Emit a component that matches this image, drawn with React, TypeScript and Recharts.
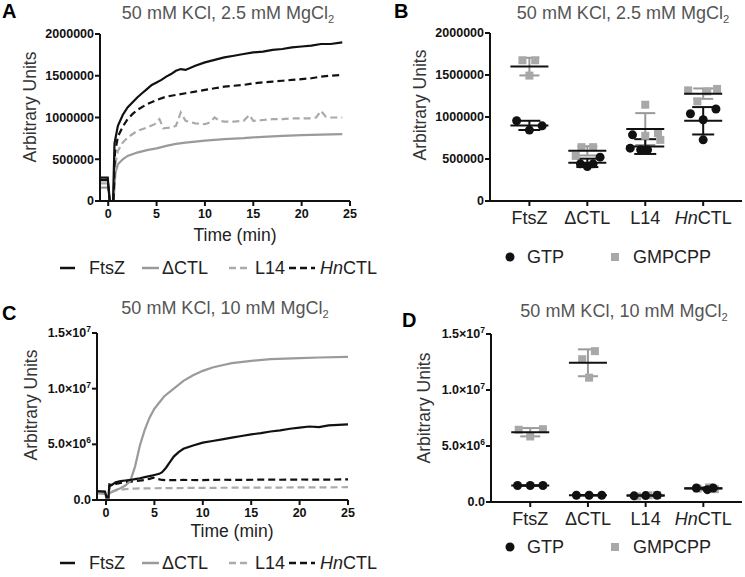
import React from "react";
import { LineChart, Line, XAxis, YAxis, ScatterChart, Scatter, ErrorBar } from "recharts";

const FONT = '"Liberation Sans", Arial, Helvetica, sans-serif';
const BLACK = "#111";
const GREY = "#9a9a9a";
const LIGHT = "#aaaaaa";
const SQUARE = "#a8a8a8";

// ---- time courses, [min, arbitrary units]
// A: 50 mM KCl, 2.5 mM MgCl2
const aFtsZ = [
  [-0.85, 280000], [-0.05, 280000], [0.15, 0], [0.5, 0], [0.65, 690000], [1, 900000], [1.5, 1030000],
  [2, 1120000], [2.5, 1180000], [3, 1240000], [3.5, 1290000], [4, 1340000], [4.5, 1390000], [5, 1420000],
  [5.5, 1450000], [6, 1490000], [6.5, 1520000], [7, 1560000], [7.5, 1580000], [8, 1570000], [9, 1620000],
  [10, 1660000], [11, 1690000], [12, 1720000], [13, 1740000], [14, 1760000], [15, 1780000], [16, 1790000],
  [17, 1810000], [18, 1820000], [19, 1840000], [20, 1850000], [21, 1860000], [22, 1880000], [23, 1880000],
  [24.2, 1900000],
];
const aDCTL = [
  [-0.85, 160000], [0, 160000], [0.2, 0], [0.55, 0], [0.75, 340000], [1, 440000], [1.5, 500000],
  [2, 540000], [3, 580000], [4, 610000], [5, 630000], [6, 660000], [7, 685000], [8, 700000], [10, 722000],
  [12, 740000], [14, 752000], [15, 762000], [16, 768000], [18, 780000], [20, 790000], [22, 795000],
  [24.2, 802000],
];
const aL14 = [
  [-0.85, 210000], [0, 210000], [0.2, 0], [0.55, 0], [0.7, 420000], [1, 600000], [1.5, 700000],
  [2, 760000], [3, 840000], [4, 880000], [4.8, 920000], [5.3, 980000], [5.7, 870000], [6.5, 880000],
  [7, 900000], [7.5, 1060000], [8, 960000], [9, 930000], [10, 920000], [10.5, 940000], [11, 1000000],
  [11.5, 960000], [12, 950000], [13, 950000], [14, 960000], [14.6, 1030000], [15, 960000], [16, 970000],
  [17, 980000], [18, 980000], [19, 990000], [20, 990000], [21, 990000], [21.5, 1000000], [22, 1080000],
  [22.5, 1010000], [23, 1000000], [24.2, 1000000],
];
const aHnCTL = [
  [-0.85, 250000], [-0.05, 250000], [0.15, 0], [0.55, 0], [0.7, 580000], [1, 770000], [1.5, 890000],
  [2, 980000], [2.5, 1040000], [3, 1090000], [4, 1160000], [5, 1210000], [6, 1250000], [7, 1270000],
  [8, 1290000], [9, 1310000], [10, 1330000], [11, 1350000], [12, 1370000], [13, 1380000], [14, 1390000],
  [15, 1410000], [16, 1420000], [17, 1430000], [18, 1440000], [19, 1450000], [20, 1460000],
  [21, 1470000], [22, 1490000], [23, 1500000], [24.2, 1510000],
];

// C: 50 mM KCl, 10 mM MgCl2
const cFtsZ = [
  [-0.93, 800000], [-0.1, 750000], [0.05, 250000], [0.25, 250000], [0.35, 1400000], [0.6, 1350000],
  [1, 1600000], [1.5, 1700000], [2, 1750000], [2.5, 1800000], [3, 1880000], [3.5, 1950000], [4, 2050000],
  [4.5, 2150000], [5, 2250000], [5.5, 2350000], [5.8, 2500000], [6.2, 2900000], [6.6, 3400000],
  [7, 3900000], [7.5, 4300000], [8, 4600000], [9, 4900000], [10, 5150000], [11, 5300000], [12, 5450000],
  [13, 5600000], [14, 5750000], [15, 5900000], [16, 6000000], [17, 6150000], [18, 6250000], [19, 6400000],
  [20, 6500000], [21, 6600000], [22, 6550000], [23, 6700000], [24, 6750000], [25, 6800000],
];
const cDCTL = [
  [-0.93, 650000], [-0.1, 600000], [0.05, 200000], [0.25, 200000], [0.35, 600000], [1, 900000],
  [1.5, 1050000], [2, 1300000], [2.5, 1700000], [3, 3000000], [3.5, 4900000], [4, 6300000], [4.5, 7400000],
  [5, 8200000], [6, 9300000], [7, 10000000], [8, 10700000], [9, 11200000], [10, 11600000], [11, 11900000],
  [12, 12100000], [13, 12300000], [15, 12500000], [17, 12650000], [20, 12750000], [22, 12800000],
  [25, 12850000],
];
const cL14 = [
  [-0.93, 600000], [-0.1, 550000], [0.05, 150000], [0.25, 150000], [0.35, 650000], [1, 850000],
  [2, 980000], [3, 1030000], [4, 1050000], [6, 1060000], [8, 1080000], [10, 1090000], [12, 1100000],
  [15, 1110000], [18, 1120000], [20, 1130000], [25, 1150000],
];
const cHnCTL = [
  [-0.93, 700000], [-0.1, 650000], [0.05, 200000], [0.25, 200000], [0.35, 1250000], [1, 1450000],
  [2, 1600000], [3, 1700000], [4, 1800000], [4.5, 1900000], [4.9, 2000000], [5.3, 1900000],
  [5.8, 1800000], [6.5, 1780000], [8, 1800000], [10, 1790000], [12, 1820000], [14, 1800000],
  [16, 1830000], [18, 1820000], [20, 1840000], [22, 1830000], [25, 1850000],
];

const timeTicks = [0, 5, 10, 15, 20, 25];
const aYTicks = [0, 500000, 1000000, 1500000, 2000000];
const cYTicks = [0, 5000000, 10000000, 15000000];
const cYLabels = [["0.0", ""], ["5.0×10", "6"], ["1.0×10", "7"], ["1.5×10", "7"]];

// ---- end-point dot plots
const categories = ["FtsZ", "ΔCTL", "L14", "HnCTL"];

// B: 2.5 mM MgCl2
const bGtp = [
  [955000, 844000, 895000],
  [442000, 410000, 442000, 522000],
  [788000, 629000, 609000, 609000],
  [1039000, 1095000, 967000, 728000],
];
const bGtpX = [[-0.22, 0, 0.22], [-0.12, 0, 0.1, 0.22], [-0.22, -0.26, -0.08, 0.04], [-0.22, 0.22, 0, 0]];
const bGmp = [
  [1675000, 1675000, 1493000],
  [641000, 641000, 537000],
  [1146000, 808000, 728000, 776000],
  [1317000, 1305000, 1334000, 1186000],
];
const bGmpX = [[-0.12, 0.1, 0], [-0.1, 0.1, -0.2], [0, 0.22, 0.26, 0], [-0.26, 0.07, 0.24, -0.1]];
const bGtpMean = [900000, 454000, 648000, 955000];
const bGtpSd = [55000, 50000, 88000, 163000];
const bGmpMean = [1600000, 597000, 856000, 1278000];
const bGmpSd = [105000, 55000, 190000, 62000];

// D: 10 mM MgCl2
const dGtp = [
  [1470000, 1470000, 1470000],
  [600000, 600000, 600000],
  [550000, 570000, 600000],
  [1250000, 1100000, 1250000],
];
const dGtpX = [[-0.22, 0, 0.22], [-0.2, 0.02, 0.24], [-0.2, 0, 0.2], [-0.12, 0.07, 0.17]];
const dGmp = [
  [6450000, 5850000, 6500000],
  [12750000, 13470000, 11100000],
  [500000, 600000, 620000],
  [1200000, 1300000, 1150000],
];
const dGmpX = [[-0.2, 0, 0.22], [-0.1, 0.12, 0.02], [-0.15, 0.05, 0.2], [-0.1, 0.1, 0.2]];
const dGtpMean = [1470000, 600000, 570000, 1200000];
const dGtpSd = [20000, 20000, 30000, 80000];
const dGmpMean = [6230000, 12430000, 570000, 1220000];
const dGmpSd = [370000, 1200000, 60000, 80000];

const axisStroke = { stroke: BLACK, strokeWidth: 2 };
const numTick = { fontSize: 12.5, fontWeight: 700, fill: BLACK, fontFamily: FONT };

const rows = (pts: number[][]) => pts.map(([t, v]) => ({ t, v }));
const toPoints = (vals: number[][], offs: number[][]) =>
  vals.flatMap((g, i) => g.map((v, j) => ({ x: i + 1 + offs[i][j], y: v })));
const toMeans = (m: number[], sd: number[]) => m.map((v, i) => ({ x: i + 1, y: v, sd: sd[i] }));

function SciTick({ x, y, payload }: any) {
  const i = cYTicks.indexOf(payload.value);
  const [base, exp] = cYLabels[i] ?? [String(payload.value), ""];
  return (
    <text x={x} y={y} dy={4} textAnchor="end" {...numTick}>
      {base}
      {exp ? <tspan dy={-5} fontSize={8.5}>{exp}</tspan> : null}
    </text>
  );
}

function CatTick({ x, y, payload }: any) {
  const name = categories[payload.value - 1];
  return (
    <text x={x} y={y} dy="0.71em" textAnchor="middle" fontSize={18} fill="#222" fontFamily={FONT}>
      {name === "HnCTL" ? (
        <>
          <tspan fontStyle="italic">Hn</tspan>
          <tspan>CTL</tspan>
        </>
      ) : (
        name
      )}
    </text>
  );
}

function Txt({ x, cy, size, bold, color, center, children }: any) {
  return (
    <div
      style={{
        position: "absolute",
        left: center ? x - 200 : x,
        width: center ? 400 : undefined,
        textAlign: center ? "center" : "left",
        top: cy - size * 0.5,
        fontSize: size,
        lineHeight: 1,
        fontWeight: bold ? 700 : 400,
        color: color ?? "#222",
        whiteSpace: "nowrap",
      }}
    >
      {children}
    </div>
  );
}

function YTitle({ x, cy }: any) {
  return (
    <div
      style={{
        position: "absolute",
        left: x - 100,
        top: cy - 9,
        width: 200,
        textAlign: "center",
        fontSize: 17.5,
        lineHeight: "18px",
        color: "#333",
        transform: "rotate(-90deg)",
        whiteSpace: "nowrap",
      }}
    >
      Arbitrary Units
    </div>
  );
}

const Mg = ({ mm }: { mm: string }) => (
  <>
    50 mM KCl, {mm} mM MgCl<span style={{ fontSize: "0.62em", position: "relative", top: "0.35em" }}>2</span>
  </>
);

function LineKey({ x, cy, w, color, dash, tx, children }: any) {
  return (
    <>
      <svg style={{ position: "absolute", left: x, top: cy - 2 }} width={w} height={4}>
        <line x1={0} y1={2} x2={w} y2={2} stroke={color} strokeWidth={2.5} strokeDasharray={dash} />
      </svg>
      <Txt x={tx} cy={cy} size={18}>
        {children}
      </Txt>
    </>
  );
}

function LineLegend({ cy }: { cy: number }) {
  return (
    <>
      <LineKey x={60} cy={cy} w={15} color={BLACK} tx={89}>FtsZ</LineKey>
      <LineKey x={142} cy={cy} w={17} color={GREY} tx={162}>ΔCTL</LineKey>
      <LineKey x={229} cy={cy} w={18} color={LIGHT} dash="7 4" tx={255}>L14</LineKey>
      <LineKey x={289} cy={cy} w={26} color={BLACK} dash="7 4" tx={320}>
        <i>Hn</i>CTL
      </LineKey>
    </>
  );
}

function DotLegend({ cy }: { cy: number }) {
  return (
    <>
      <svg style={{ position: "absolute", left: 504, top: cy - 6 }} width={12} height={12}>
        <circle cx={6} cy={6} r={4.5} fill={BLACK} />
      </svg>
      <Txt x={527} cy={cy} size={18}>GTP</Txt>
      <svg style={{ position: "absolute", left: 610, top: cy - 5 }} width={10} height={10}>
        <rect x={1} y={1} width={8} height={8} fill={SQUARE} />
      </svg>
      <Txt x={633} cy={cy} size={18}>GMPCPP</Txt>
    </>
  );
}

function TimeCourse({ top, yAxisW, plotTop, right, xMin, yMax, yTicks, yTick, series }: any) {
  return (
    <div style={{ position: "absolute", left: 0, top }}>
      <LineChart width={372} height={235} margin={{ top: plotTop, right, bottom: 0, left: 0 }}>
        <XAxis
          type="number"
          dataKey="t"
          domain={[xMin, 25]}
          ticks={timeTicks}
          interval={0}
          allowDataOverflow
          height={235 - plotTop - 167}
          axisLine={axisStroke}
          tickLine={axisStroke}
          tickSize={5}
          tickMargin={3}
          tick={numTick}
        />
        <YAxis
          type="number"
          domain={[0, yMax]}
          ticks={yTicks}
          interval={0}
          allowDataOverflow
          width={yAxisW}
          axisLine={axisStroke}
          tickLine={axisStroke}
          tickSize={5}
          tickMargin={1}
          tick={yTick}
        />
        {series.map((s: any) => (
          <Line
            key={s.name}
            data={rows(s.pts)}
            dataKey="v"
            type="linear"
            stroke={s.color}
            strokeWidth={2.2}
            strokeDasharray={s.dash}
            dot={false}
            isAnimationActive={false}
          />
        ))}
      </LineChart>
    </div>
  );
}

function DotPlot({ top, yAxisW, plotTop, yMax, yTicks, yTick, gtp, gtpX, gmp, gmpX, gtpMean, gtpSd, gmpMean, gmpSd }: any) {
  const square = (p: any) => <rect x={p.cx - 4} y={p.cy - 4} width={8} height={8} fill={SQUARE} />;
  const circle = (p: any) => <circle cx={p.cx} cy={p.cy} r={4.5} fill={BLACK} />;
  const meanLine = (p: any) => (
    <line x1={p.cx - 19} x2={p.cx + 19} y1={p.cy} y2={p.cy} stroke={BLACK} strokeWidth={2} />
  );
  return (
    <div style={{ position: "absolute", left: 372, top }}>
      <ScatterChart width={373} height={235} margin={{ top: plotTop, right: 3, bottom: 0, left: 0 }}>
        <XAxis
          type="number"
          dataKey="x"
          domain={[0.32, 4.67]}
          ticks={[1, 2, 3, 4]}
          interval={0}
          allowDataOverflow
          height={235 - plotTop - 168}
          axisLine={axisStroke}
          tickLine={axisStroke}
          tickSize={5}
          tickMargin={5}
          tick={<CatTick />}
        />
        <YAxis
          type="number"
          dataKey="y"
          domain={[0, yMax]}
          ticks={yTicks}
          interval={0}
          allowDataOverflow
          width={yAxisW}
          axisLine={axisStroke}
          tickLine={axisStroke}
          tickSize={5}
          tickMargin={1}
          tick={yTick}
        />
        <Scatter data={toPoints(gmp, gmpX)} shape={square} isAnimationActive={false} />
        <Scatter data={toPoints(gtp, gtpX)} shape={circle} isAnimationActive={false} />
        <Scatter data={toMeans(gmpMean, gmpSd)} shape={meanLine} isAnimationActive={false}>
          <ErrorBar dataKey="sd" direction="y" width={10} stroke={GREY} strokeWidth={2} isAnimationActive={false} />
        </Scatter>
        <Scatter data={toMeans(gtpMean, gtpSd)} shape={meanLine} isAnimationActive={false}>
          <ErrorBar dataKey="sd" direction="y" width={11} stroke={BLACK} strokeWidth={2} isAnimationActive={false} />
        </Scatter>
      </ScatterChart>
    </div>
  );
}

export default function App() {
  return (
    <div
      style={{
        position: "absolute",
        left: 0,
        top: 0,
        width: 745,
        height: 577,
        background: "#fff",
        fontFamily: FONT,
        overflow: "hidden",
      }}
    >
      {/* A */}
      <TimeCourse
        top={0}
        yAxisW={100}
        plotTop={34}
        right={22}
        xMin={-0.85}
        yMax={2000000}
        yTicks={aYTicks}
        yTick={numTick}
        series={[
          { name: "ΔCTL", pts: aDCTL, color: GREY },
          { name: "L14", pts: aL14, color: LIGHT, dash: "7 4" },
          { name: "HnCTL", pts: aHnCTL, color: BLACK, dash: "7 4" },
          { name: "FtsZ", pts: aFtsZ, color: BLACK },
        ]}
      />
      <Txt x={2} cy={11} size={20} bold color="#000">A</Txt>
      <Txt x={228} cy={13} size={18} color="#555" center><Mg mm="2.5" /></Txt>
      <YTitle x={30} cy={107} />
      <Txt x={235} cy={236} size={17.5} color="#222" center>Time (min)</Txt>
      <LineLegend cy={268} />

      {/* B */}
      <DotPlot
        top={0}
        yAxisW={118}
        plotTop={33}
        yMax={2000000}
        yTicks={aYTicks}
        yTick={numTick}
        gtp={bGtp}
        gtpX={bGtpX}
        gmp={bGmp}
        gmpX={bGmpX}
        gtpMean={bGtpMean}
        gtpSd={bGtpSd}
        gmpMean={bGmpMean}
        gmpSd={bGmpSd}
      />
      <Txt x={394} cy={11} size={20} bold color="#000">B</Txt>
      <Txt x={623} cy={13} size={18} color="#555" center><Mg mm="2.5" /></Txt>
      <YTitle x={420} cy={105} />
      <DotLegend cy={257} />

      {/* C */}
      <TimeCourse
        top={300}
        yAxisW={97}
        plotTop={33}
        right={24}
        xMin={-0.93}
        yMax={15000000}
        yTicks={cYTicks}
        yTick={<SciTick />}
        series={[
          { name: "L14", pts: cL14, color: LIGHT, dash: "7 4" },
          { name: "HnCTL", pts: cHnCTL, color: BLACK, dash: "7 4" },
          { name: "ΔCTL", pts: cDCTL, color: GREY },
          { name: "FtsZ", pts: cFtsZ, color: BLACK },
        ]}
      />
      <Txt x={2} cy={313} size={20} bold color="#000">C</Txt>
      <Txt x={225} cy={308} size={18} color="#555" center><Mg mm="10" /></Txt>
      <YTitle x={31} cy={405} />
      <Txt x={232} cy={532} size={17.5} color="#222" center>Time (min)</Txt>
      <LineLegend cy={563} />

      {/* D */}
      <DotPlot
        top={300}
        yAxisW={119}
        plotTop={34}
        yMax={15000000}
        yTicks={cYTicks}
        yTick={<SciTick />}
        gtp={dGtp}
        gtpX={dGtpX}
        gmp={dGmp}
        gmpX={dGmpX}
        gtpMean={dGtpMean}
        gtpSd={dGtpSd}
        gmpMean={dGmpMean}
        gmpSd={dGmpSd}
      />
      <Txt x={402} cy={320} size={20} bold color="#000">D</Txt>
      <Txt x={624} cy={311} size={18} color="#555" center><Mg mm="10" /></Txt>
      <YTitle x={424} cy={408} />
      <DotLegend cy={547} />
    </div>
  );
}
